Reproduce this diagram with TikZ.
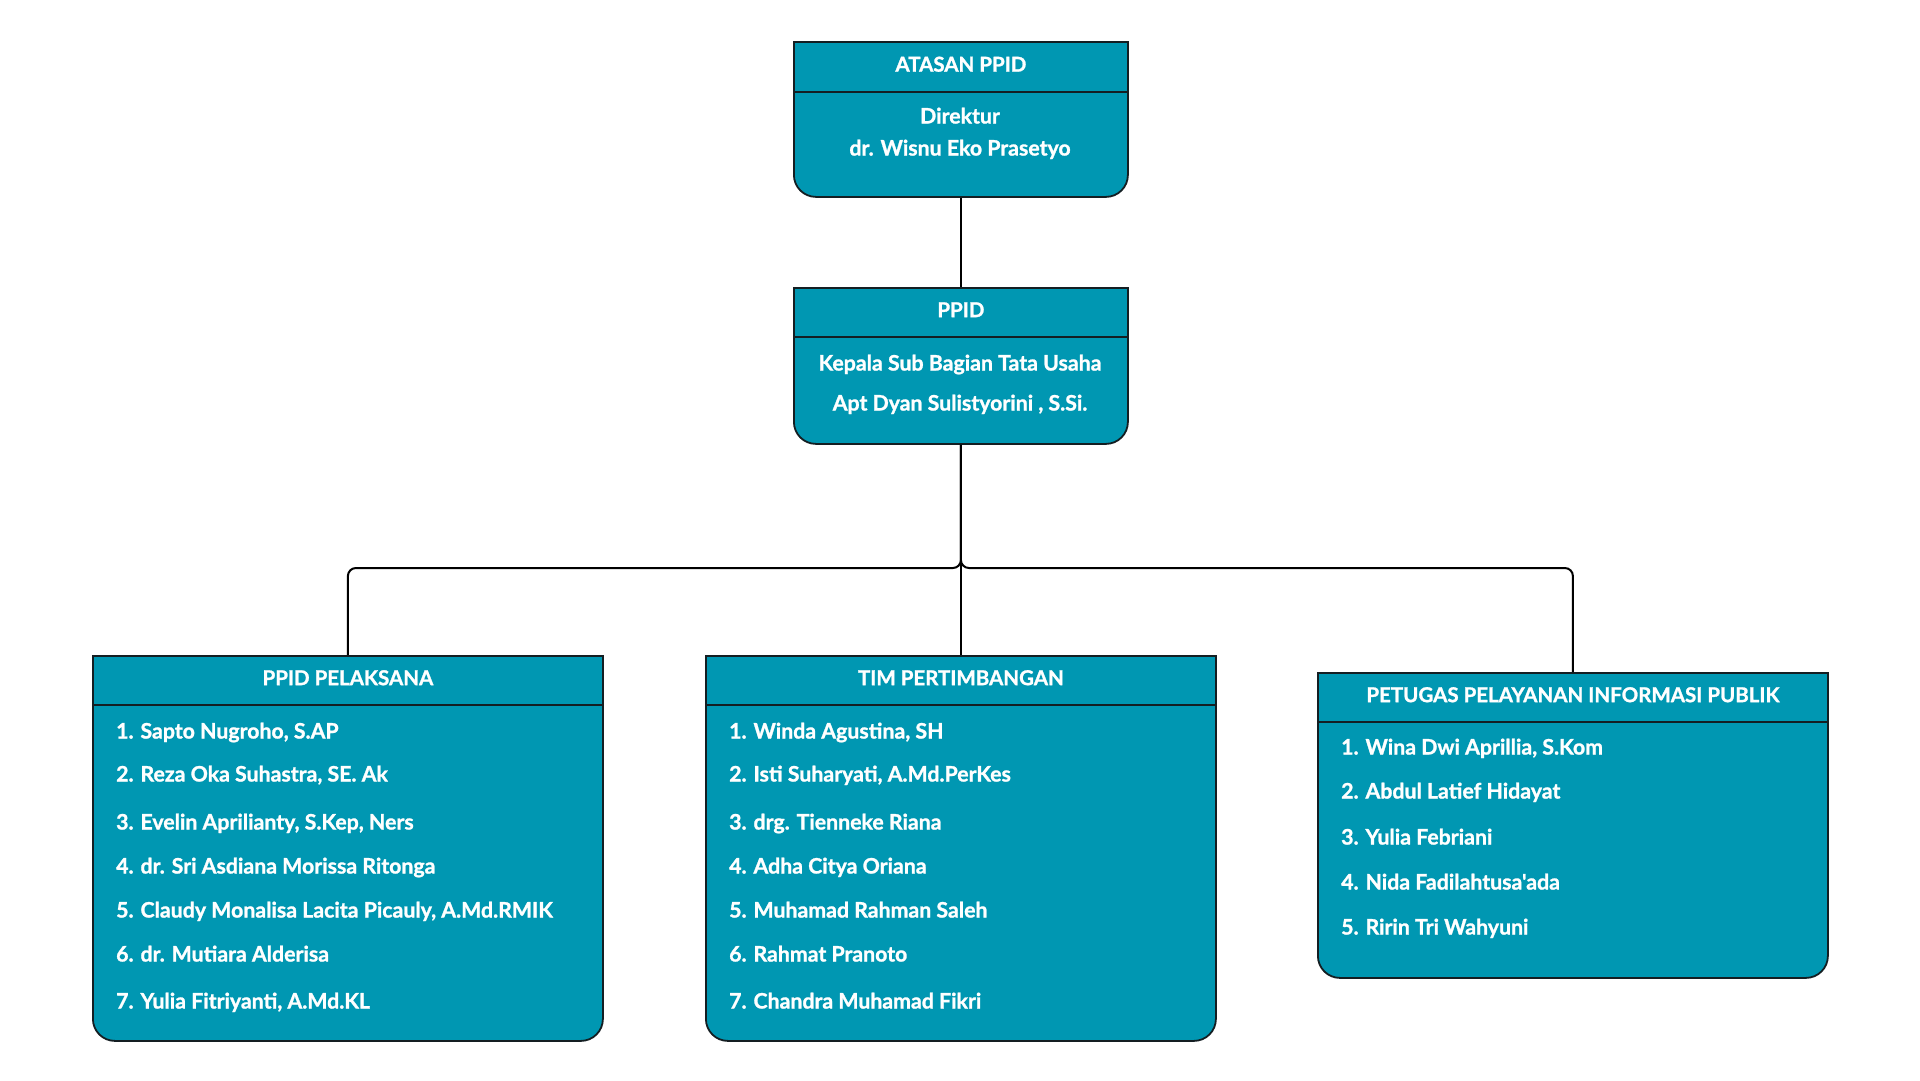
\documentclass[tikz,border=0pt]{standalone}
\usepackage{fontspec}
\setmainfont{Lato}[Ligatures=TeXOff, BoldFeatures={FakeBold=1.2}]
\definecolor{ppidteal}{HTML}{0097B2}
\definecolor{edgecol}{HTML}{141E22}
\begin{document}
\begin{tikzpicture}[x=1pt,y=-1pt,
  boxline/.style={draw=edgecol, line width=1.8pt},
  body/.style={boxline, fill=ppidteal, rounded corners=22pt, anchor=north west, inner sep=0pt},
  head/.style={boxline, fill=ppidteal, anchor=north west, inner sep=0pt, text=white,
    font=\bfseries\fontsize{20.5}{24}\selectfont, text height=14.5pt, text depth=5pt},
  item/.style={anchor=west, inner sep=0pt, text=white,
    font=\bfseries\fontsize{21.3}{25}\selectfont, text height=15pt, text depth=0pt},
  ctr/.style={item, anchor=center},
  conn/.style={draw=black, line width=2pt, rounded corners=8pt}
]
\useasboundingbox[fill=white] (0,0) rectangle (1920,1080);

% ATASAN PPID
\node[body, minimum width=334pt, minimum height=155pt] (b1) at (793,41) {};
\node[head, minimum width=334pt, minimum height=50pt] (h1) at (793,41) {ATASAN PPID};
\node[ctr] (t1a) at (960,116) {Direktur};
\node[ctr] (t1b) at (960,148) {dr. Wisnu Eko Prasetyo};

% PPID
\node[body, minimum width=334pt, minimum height=156pt] (b2) at (793,287) {};
\node[head, minimum width=334pt, minimum height=49pt] (h2) at (793,287) {PPID};
\node[ctr] (t2a) at (960,363) {Kepala Sub Bagian Tata Usaha};
\node[ctr] (t2b) at (960,403) {Apt Dyan Sulistyorini , S.Si.};

% PPID PELAKSANA
\node[body, minimum width=510pt, minimum height=385pt] (b3) at (92,655) {};
\node[head, minimum width=510pt, minimum height=49pt] (h3) at (92,655) {PPID PELAKSANA};
\node[item] (p1) at (116,731) {1. Sapto Nugroho, S.AP};
\node[item] (p2) at (116,774) {2. Reza Oka Suhastra, SE. Ak};
\node[item] (p3) at (116,822) {3. Evelin Aprilianty, S.Kep, Ners};
\node[item] (p4) at (116,866) {4. dr. Sri Asdiana Morissa Ritonga};
\node[item] (p5) at (116,910) {5. Claudy Monalisa Lacita Picauly, A.Md.RMIK};
\node[item] (p6) at (116,954) {6. dr. Mutiara Alderisa};
\node[item] (p7) at (116,1001) {7. Yulia Fitriyanti, A.Md.KL};

% TIM PERTIMBANGAN
\node[body, minimum width=510pt, minimum height=385pt] (b4) at (705,655) {};
\node[head, minimum width=510pt, minimum height=49pt] (h4) at (705,655) {TIM PERTIMBANGAN};
\node[item] (q1) at (729,731) {1. Winda Agustina, SH};
\node[item] (q2) at (729,774) {2. Isti Suharyati, A.Md.PerKes};
\node[item] (q3) at (729,822) {3. drg. Tienneke Riana};
\node[item] (q4) at (729,866) {4. Adha Citya Oriana};
\node[item] (q5) at (729,910) {5. Muhamad Rahman Saleh};
\node[item] (q6) at (729,954) {6. Rahmat Pranoto};
\node[item] (q7) at (729,1001) {7. Chandra Muhamad Fikri};

% PETUGAS PELAYANAN INFORMASI PUBLIK
\node[body, minimum width=510pt, minimum height=305pt] (b5) at (1317,672) {};
\node[head, minimum width=510pt, minimum height=49pt] (h5) at (1317,672) {PETUGAS PELAYANAN INFORMASI PUBLIK};
\node[item] (r1) at (1341,747) {1. Wina Dwi Aprillia, S.Kom};
\node[item] (r2) at (1341,791) {2. Abdul Latief Hidayat};
\node[item] (r3) at (1341,837) {3. Yulia Febriani};
\node[item] (r4) at (1341,882) {4. Nida Fadilahtusa'ada};
\node[item] (r5) at (1341,927) {5. Ririn Tri Wahyuni};

% connectors
\coordinate (bus) at (960,568);
\draw[conn] (b1.south) -- (h2.north);
\draw[conn] (b2.south) -- (b2.south |- bus) -| (h3.north);
\draw[conn] (b2.south) -- (h4.north);
\draw[conn] (b2.south) -- (b2.south |- bus) -| (h5.north);
\end{tikzpicture}
\end{document}
